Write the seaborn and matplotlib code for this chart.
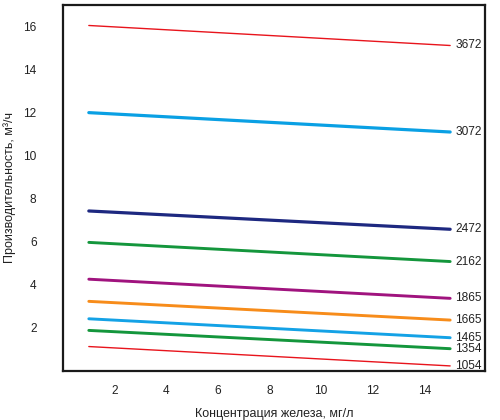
import matplotlib
matplotlib.use("Agg")
import matplotlib.pyplot as plt
import seaborn as sns
import pandas as pd

# data
labels = ["3672", "3072", "2472", "2162", "1865", "1665", "1465", "1354", "1054"]
x_start = [1, 1, 1, 1, 1, 1, 1, 1, 1]
x_end = [15, 15, 15, 15, 15, 15, 15, 15, 15]
y_start = [16.05, 12.0, 7.43, 5.97, 4.26, 3.23, 2.42, 1.88, 1.13]
y_end = [15.12, 11.1, 6.58, 5.08, 3.37, 2.36, 1.54, 1.03, 0.23]
colors = ["#e8141c", "#0aa0e4", "#1d2880", "#14963c", "#a0137e", "#f78c1a", "#14a2e6", "#14963c", "#e8141c"]
widths = [1.0, 2.3, 2.3, 2.1, 2.1, 2.1, 2.1, 2.1, 1.0]
x_ticks = [2, 4, 6, 8, 10, 12, 14]
y_ticks = [2, 4, 6, 8, 10, 12, 14, 16]

rows = []
for lab, xs, xe, ys, ye in zip(labels, x_start, x_end, y_start, y_end):
    rows.append({"series": lab, "x": xs, "y": ys})
    rows.append({"series": lab, "x": xe, "y": ye})
df = pd.DataFrame(rows)

sns.set_theme(style="white")
plt.rcParams["font.family"] = ["Liberation Sans", "DejaVu Sans"]

fig = plt.figure(figsize=(5, 4.2), dpi=100)
ax = fig.add_axes([0.126, 0.117, 0.844, 0.871])

for lab, c, w in zip(labels, colors, widths):
    sub = df[df["series"] == lab]
    sns.lineplot(data=sub, x="x", y="y", color=c, linewidth=w, ax=ax, legend=False)
    ax.text(sub["x"].iloc[-1] + 0.2, sub["y"].iloc[-1], lab, ha="left", va="center",
            fontsize=8.6, color="#222222")

ax.set_xlim(0, 16.35)
ax.set_ylim(0, 17)
ax.set_xticks(x_ticks)
ax.set_yticks(y_ticks)
ax.tick_params(axis="both", length=0, labelsize=8.6, colors="#222222")
ax.tick_params(axis="y", pad=19)
ax.tick_params(axis="x", pad=10)
for s in ax.spines.values():
    s.set_visible(True)
    s.set_color("#1a1a1a")
    s.set_linewidth(1.6)
ax.set_xlabel("Концентрация железа, мг/л", fontsize=9, color="#222222", labelpad=8)
ax.set_ylabel("Производительность, м³/ч", fontsize=9, color="#222222", labelpad=5)

fig.savefig("out.png", dpi=100)
